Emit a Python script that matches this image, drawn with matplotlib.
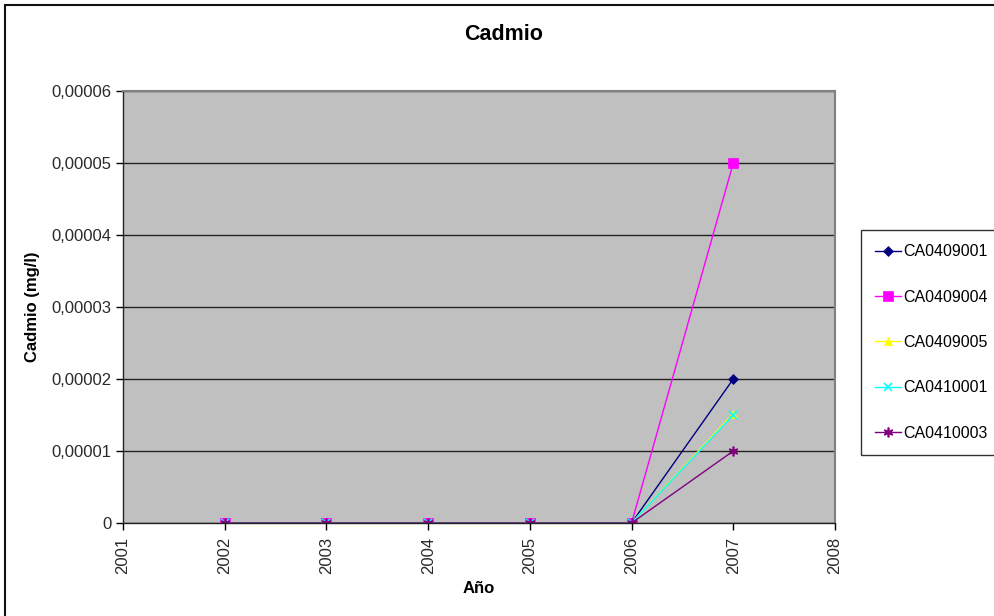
import matplotlib
matplotlib.use('Agg')
import matplotlib.pyplot as plt
from matplotlib.patches import Rectangle

plt.rcParams['font.family'] = ['Liberation Sans', 'DejaVu Sans']

# data
years = [2002, 2003, 2004, 2005, 2006, 2007]
ca0409001 = [0, 0, 0, 0, 0, 0.00002]
ca0409004 = [0, 0, 0, 0, 0, 0.00005]
ca0409005 = [0, 0, 0, 0, 0, 0.0000152]
ca0410001 = [0, 0, 0, 0, 0, 0.000015]
ca0410003 = [0, 0, 0, 0, 0, 0.00001]

x_ticks = [2001, 2002, 2003, 2004, 2005, 2006, 2007, 2008]
y_ticks = [0, 0.00001, 0.00002, 0.00003, 0.00004, 0.00005, 0.00006]
y_tick_labels = ['0', '0,00001', '0,00002', '0,00003', '0,00004', '0,00005', '0,00006']

series = [
    ('CA0409001', ca0409001, '#000080', 'D', 5),
    ('CA0409004', ca0409004, '#FF00FF', 's', 6.5),
    ('CA0409005', ca0409005, '#FFFF00', '^', 6),
    ('CA0410001', ca0410001, '#00FFFF', 'x', 6),
    ('CA0410003', ca0410003, '#800080', (6, 2, 0), 7),
]

fig = plt.figure(figsize=(9.95, 6.16), dpi=100)
ax = fig.add_axes([123 / 995, 1 - 523 / 616, (835 - 123) / 995, (523 - 91) / 616])
ax.set_facecolor('#C0C0C0')

for name, vals, col, mk, ms in series:
    ax.plot(years, vals, color=col, marker=mk, markersize=ms, linewidth=1,
            markeredgewidth=1.2 if mk in ('x',) or isinstance(mk, tuple) else 0.5,
            markeredgecolor=col, label=name)

ax.set_xlim(2001, 2008)
ax.set_ylim(0, 0.00006)
ax.set_xticks(x_ticks)
ax.set_xticklabels([str(t) for t in x_ticks], rotation=90)
ax.set_yticks(y_ticks)
ax.set_yticklabels(y_tick_labels)
ax.tick_params(axis='both', labelsize=12, colors='#000000', length=5, width=1,
               direction='out')
ax.tick_params(axis='x', pad=5)
for lbl in ax.get_xticklabels() + ax.get_yticklabels():
    lbl.set_color('#2a2a2a')

ax.yaxis.grid(True, color='#222222', linewidth=1)
ax.set_axisbelow(True)
for side in ['top', 'right']:
    ax.spines[side].set_color('#808080')
    ax.spines[side].set_linewidth(1.5)
for side in ['left', 'bottom']:
    ax.spines[side].set_color('#222222')
    ax.spines[side].set_linewidth(1)

ax.set_xlabel('Año', fontsize=12, fontweight='bold', labelpad=5)
ax.set_ylabel('Cadmio (mg/l)', fontsize=12, fontweight='bold', labelpad=8)
fig.text(0.506, 1 - 35 / 616, 'Cadmio', ha='center', va='center',
         fontsize=15.5, fontweight='bold')

leg = ax.legend(loc='upper left', bbox_to_anchor=(861 / 995, 1 - 230 / 616),
                bbox_transform=fig.transFigure, frameon=True, fancybox=False,
                edgecolor='#000000', fontsize=11.5, labelspacing=1.9,
                handlelength=1.6, handletextpad=0.15, borderpad=0.9,
                borderaxespad=0)
leg.get_frame().set_linewidth(1)

# outer chart border
fig.patches.append(Rectangle((5 / 995, -0.1), 1.2, 1 - 5 / 616 + 0.1,
                             transform=fig.transFigure, fill=False,
                             edgecolor='#111111', linewidth=1.5))

fig.savefig('out.png', dpi=100)
